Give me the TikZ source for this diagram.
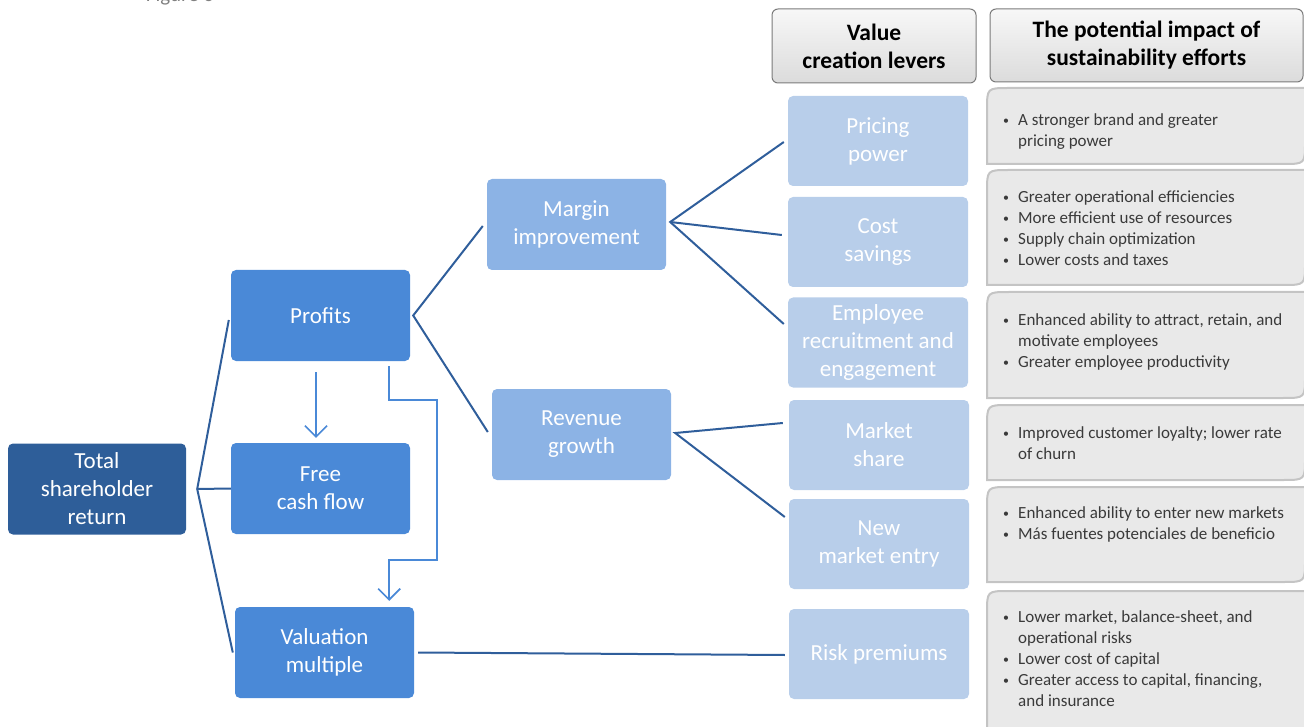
\documentclass[tikz,border=0pt]{standalone}
\usepackage{fontspec}
\setmainfont{Carlito}
\usetikzlibrary{arrows.meta}

\definecolor{tsrblue}{HTML}{2E5E99}
\definecolor{midblue}{HTML}{4A89D7}
\definecolor{paleblue}{HTML}{8CB3E5}
\definecolor{leverblue}{HTML}{B8CEEA}
\definecolor{linkblue}{HTML}{2F5E9B}
\definecolor{impactgray}{HTML}{E9E9E9}
\definecolor{impactline}{HTML}{C4C4C4}
\definecolor{headline}{HTML}{7A7A7A}
\definecolor{bodytext}{HTML}{3A3A3A}

\newcommand{\bul}{\makebox[15pt][l]{\raisebox{1pt}{\scalebox{0.7}{•}}}}
\newcommand{\ind}{\hspace*{15pt}}
% gray impact box: name, top, bottom, text top, text
\newcommand{\impactbox}[5]{%
  \filldraw[impact] (987,#3) -- (987,#2+22) .. controls (987,#2) .. (1009,#2)
    -- (1305,#2) -- (1305,#3-22) .. controls (1305,#3) .. (1283,#3) -- cycle;
  \node[impacttext] (#1) at (1003,#4) {#5};}

\begin{document}
\begin{tikzpicture}[x=1pt,y=-1pt,
  box/.style={rectangle, rounded corners=5pt, text=white, align=center,
    font=\fontsize{23}{28}\selectfont, minimum width=179pt, minimum height=91pt, inner sep=0pt},
  lever/.style={box, fill=leverblue, minimum width=180pt, minimum height=90pt},
  header/.style={rectangle, rounded corners=6pt, draw=headline, line width=1pt,
    top color=gray!6, bottom color=gray!28, align=center,
    font=\bfseries\fontsize{23.5}{28}\selectfont},
  impact/.style={fill=impactgray, draw=impactline, line width=2pt},
  impacttext/.style={anchor=north west, inner sep=0pt, align=left, text=bodytext,
    font=\fontsize{17}{21}\selectfont},
  link/.style={draw=linkblue, line width=2pt},
  flow/.style={draw=midblue, line width=1.6pt, -{Straight Barb[length=11pt,width=22pt]}}]
\useasboundingbox (0,0) rectangle (1304,727);

\node[text=gray, font=\fontsize{21}{24}\selectfont, anchor=base] (figlabel) at (180,2) {Figure 6};

% headers
\node[header, minimum width=204pt, minimum height=74pt] (levers) at (874,46) {Value\\creation levers};
\node[header, minimum width=313pt, minimum height=73pt] (impacts) at (1146.5,45.5) {The potential impact of\\sustainability efforts};

% value tree
\node[box, fill=tsrblue, minimum width=178pt] (tsr) at (97,489) {Total\\shareholder\\return};
\node[box, fill=midblue] (profits) at (320.5,315.5) {Profits};
\node[box, fill=midblue] (fcf) at (320.5,488.5) {Free\\cash flow};
\node[box, fill=midblue] (valuation) at (324.5,652.5) {Valuation\\multiple};
\node[box, fill=paleblue] (margin) at (576.5,224.5) {Margin\\improvement};
\node[box, fill=paleblue] (revenue) at (581.5,434.5) {Revenue\\growth};

% levers
\node[lever] (pricing) at (878,141) {Pricing\\power};
\node[lever] (cost) at (878,242) {Cost\\savings};
\node[lever] (employee) at (878,342.5) {Employee\\recruitment and\\engagement};
\node[lever] (market) at (879,445) {Market\\share};
\node[lever] (newmarket) at (879,544) {New\\market entry};
\node[lever] (risk) at (879,654) {Risk premiums};

% impacts
\impactbox{brandtext}{88}{164}{113}{\bul A stronger brand and greater\\\ind pricing power}
\impactbox{costtext}{170}{285}{190}{\bul Greater operational efficiencies\\\bul More efficient use of resources\\\bul Supply chain optimization\\\bul Lower costs and taxes}
\impactbox{peopletext}{292}{398}{313}{\bul Enhanced ability to attract, retain, and\\\ind motivate employees\\\bul Greater employee productivity}
\impactbox{loyaltytext}{405}{480}{426}{\bul Improved customer loyalty; lower rate\\\ind of churn}
\impactbox{entrytext}{487}{582}{506}{\bul Enhanced ability to enter new markets\\\bul Más fuentes potenciales de beneficio}
\impactbox{risktext}{591}{745}{610}{\bul Lower market, balance-sheet, and\\\ind operational risks\\\bul Lower cost of capital\\\bul Greater access to capital, financing,\\\ind and insurance}

% connectors
\coordinate (tsrfork) at ([xshift=11pt]tsr.east);
\draw[link] ([xshift=-2pt,yshift=-4.5pt]profits.west) -- (tsrfork) -- ([xshift=-2pt]valuation.west);
\draw[link] (tsrfork) -- (fcf.west);

\coordinate (profitfork) at ([xshift=3pt]profits.east);
\draw[link] ([xshift=-4pt,yshift=-1.5pt]margin.west) -- (profitfork) -- ([xshift=-4pt,yshift=2.5pt]revenue.west);

\coordinate (marginfork) at ([xshift=4pt,yshift=2.5pt]margin.east);
\draw[link] ([xshift=-4pt,yshift=-1pt]pricing.west) -- (marginfork) -- ([xshift=-4pt,yshift=18.5pt]employee.west);
\draw[link] (marginfork) -- ([xshift=-6pt,yshift=7pt]cost.west);

\coordinate (revenuefork) at ([xshift=4pt,yshift=1.5pt]revenue.east);
\draw[link] ([xshift=-6pt,yshift=22pt]market.west) -- (revenuefork) -- ([xshift=-4pt,yshift=27pt]newmarket.west);

\draw[link] ([xshift=4pt]valuation.east) -- ([xshift=-4pt,yshift=-1pt]risk.west);

% arrows
\draw[flow] ([xshift=-4.5pt,yshift=-11pt]profits.south) -- ([xshift=-4.5pt,yshift=5pt]fcf.north);
\draw[flow] ([xshift=-21pt,yshift=-5pt]profits.south east) -- ++(0,34) -- ++(48,0) -- ++(0,160)
  -- ++(-48,0) -- ([xshift=-25pt,yshift=6pt]valuation.north east);
\end{tikzpicture}
\end{document}
